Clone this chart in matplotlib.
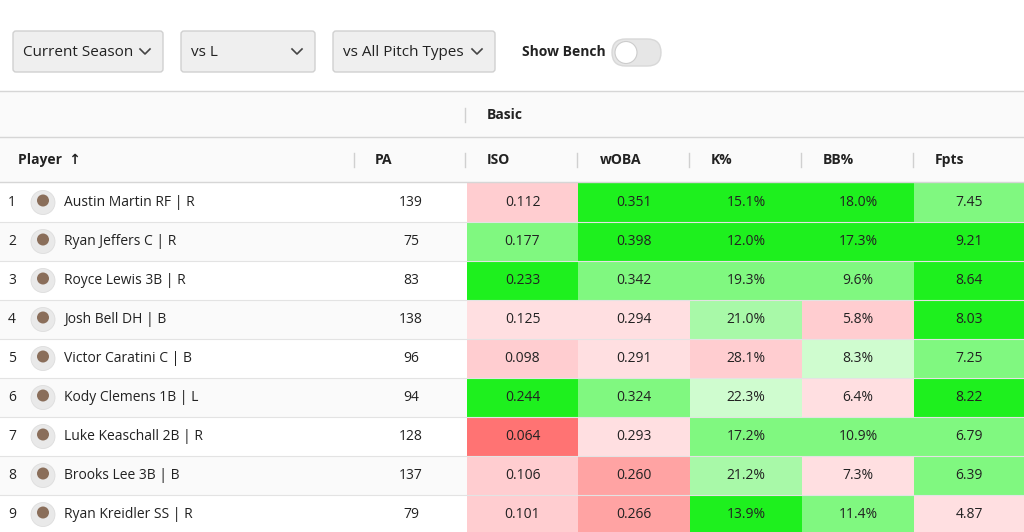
import matplotlib.pyplot as plt
from matplotlib.patches import Rectangle, FancyBboxPatch, Circle

plt.rcParams['font.family'] = ['Open Sans', 'DejaVu Sans']

players = ["Austin Martin RF | R", "Ryan Jeffers C | R", "Royce Lewis 3B | R",
           "Josh Bell DH | B", "Victor Caratini C | B", "Kody Clemens 1B | L",
           "Luke Keaschall 2B | R", "Brooks Lee 3B | B", "Ryan Kreidler SS | R"]
pa = [139, 75, 83, 138, 96, 94, 128, 137, 79]
iso = ["0.112", "0.177", "0.233", "0.125", "0.098", "0.244", "0.064", "0.106", "0.101"]
woba = ["0.351", "0.398", "0.342", "0.294", "0.291", "0.324", "0.293", "0.260", "0.266"]
kpct = ["15.1%", "12.0%", "19.3%", "21.0%", "28.1%", "22.3%", "17.2%", "21.2%", "13.9%"]
bbpct = ["18.0%", "17.3%", "9.6%", "5.8%", "8.3%", "6.4%", "10.9%", "7.3%", "11.4%"]
fpts = ["7.45", "9.21", "8.64", "8.03", "7.25", "8.22", "6.79", "6.39", "4.87"]

# colour level of each cell: G strong green, M medium, L light, V very light green,
# p very light pink, q light pink, P pink, R red
iso_c = "qMGpqGRqq"
woba_c = "GGMppMpPP"
k_c = "GGMLqVMLG"
bb_c = "GGMqVpMpM"
fpts_c = "MGGGMGMMp"
palette = {"G": "#1ef01e", "M": "#80f880", "L": "#a8f9a8", "V": "#cffccf",
           "p": "#ffdfe1", "q": "#ffcdd0", "P": "#ffa3a3", "R": "#ff7373"}

fig = plt.figure(figsize=(10.24, 5.32), dpi=100)
ax = fig.add_axes([0, 0, 1, 1])
ax.set_xlim(0, 1024)
ax.set_ylim(532, 0)
ax.axis("off")

# dropdowns
for x0, x1, label in [(13, 163, "Current Season"), (181, 315, "vs L"), (333, 495, "vs All Pitch Types")]:
    ax.add_patch(FancyBboxPatch((x0, 31), x1 - x0, 41, boxstyle="round,pad=0,rounding_size=3",
                                fc="#efefef", ec="#d0d0d0", lw=1))
    ax.text(x0 + 10, 52, label, fontsize=11, va="center", color="#222")
    cx = x1 - 18
    ax.plot([cx - 5, cx, cx + 5], [49, 54, 49], color="#444", lw=1.2)
ax.text(522, 52, "Show Bench", fontsize=10, fontweight="bold", va="center", color="#222")
ax.add_patch(FancyBboxPatch((612, 39), 49, 27, boxstyle="round,pad=0,rounding_size=13.5",
                            fc="#e6e6e6", ec="#d8d8d8", lw=1))
ax.add_patch(Circle((626, 52.5), 11, fc="white", ec="#cccccc", lw=0.8))

# header
ax.add_patch(Rectangle((0, 91), 1024, 91, fc="#fafafa", ec="none"))
for y in (91, 137, 182):
    ax.plot([0, 1024], [y, y], color="#d6d6d6", lw=1)
ax.plot([465, 465], [108, 122], color="#d0d0d0", lw=1)
ax.text(487, 115, "Basic", fontsize=10, fontweight="bold", va="center", color="#222")
ax.text(18, 160, "Player  \u2191", fontsize=10, fontweight="bold", va="center", color="#222")
heads = [(375, "PA"), (487, "ISO"), (600, "wOBA"), (711, "K%"), (823, "BB%"), (935, "Fpts")]
for x, h in heads:
    ax.text(x, 160, h, fontsize=10, fontweight="bold", va="center", color="#222")
for x in (354, 465, 577, 689, 801, 913):
    ax.plot([x, x], [153, 167], color="#d0d0d0", lw=1)

# rows
cols = [(467, 578, iso, iso_c), (578, 690, woba, woba_c), (690, 802, kpct, k_c),
        (802, 914, bbpct, bb_c), (914, 1024, fpts, fpts_c)]
rh = 39
for i, name in enumerate(players):
    top = 183 + i * rh
    cy = top + rh / 2
    if i % 2 == 1:
        ax.add_patch(Rectangle((0, top), 467, rh, fc="#fafafa", ec="none"))
    for x0, x1, vals, cc in cols:
        ax.add_patch(Rectangle((x0, top), x1 - x0, rh, fc=palette[cc[i]], ec="none"))
        ax.text((x0 + x1) / 2, cy, vals[i], fontsize=10, ha="center", va="center", color="#222")
    ax.plot([0, 1024], [top + rh, top + rh], color="#e3e3e3", lw=0.8)
    ax.text(8, cy, str(i + 1), fontsize=10, va="center", color="#222")
    ax.add_patch(Circle((43, cy), 12, fc="#e9e9e9", ec="#dddddd", lw=0.6))
    ax.add_patch(Circle((43, cy - 2), 6, fc="#8a6e5a", ec="none"))
    ax.text(64, cy, name, fontsize=10, va="center", color="#222")
    ax.text(411, cy, str(pa[i]), fontsize=10, ha="center", va="center", color="#222")

fig.savefig("out.png", dpi=100)
